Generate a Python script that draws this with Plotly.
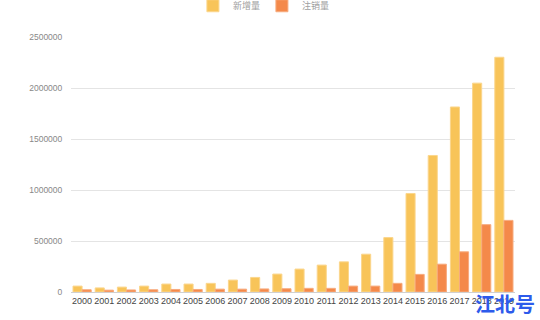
import plotly.graph_objects as go

years = [str(y) for y in range(2000, 2020)]
new_reg = [58000, 40000, 48000, 58000, 78000, 78000, 85000, 117000, 143000, 176000,
           225000, 264000, 296000, 371000, 534000, 967000, 1340000, 1816000, 2050000, 2304000]
cancel = [22000, 18000, 20000, 22000, 25000, 25000, 28000, 28000, 30000, 32000,
          36000, 36000, 58000, 58000, 85000, 173000, 273000, 394000, 661000, 703000]
y_ticks = [0, 500000, 1000000, 1500000, 2000000, 2500000]
series_names = ["新增量", "注销量"]

fig = go.Figure()
fig.add_trace(go.Bar(x=years, y=new_reg, name=series_names[0],
                     marker=dict(color="#F8C459", line=dict(color="#FBD68C", width=1))))
fig.add_trace(go.Bar(x=years, y=cancel, name=series_names[1],
                     marker=dict(color="#F4894A", line=dict(color="#F7AB7E", width=1))))

fig.update_layout(
    width=540, height=320,
    margin=dict(l=71, r=25, t=36, b=28),
    paper_bgcolor="white", plot_bgcolor="white",
    barmode="group", bargap=0.18, bargroupgap=0.0,
    font=dict(family="Noto Sans CJK SC, Noto Sans, sans-serif"),
    legend=dict(orientation="h", x=0.43, xanchor="center", y=0.982, yref="container",
                yanchor="middle", font=dict(size=9, color="#A0A0A0"),
                itemwidth=30, entrywidth=24, entrywidthmode="pixels", traceorder="normal"),
    xaxis=dict(showgrid=False, showline=True, linecolor="#D0D0D0", linewidth=1,
               tickfont=dict(size=9, color="#444444", family="Liberation Sans Narrow, Liberation Sans, sans-serif"),
               ticks="", tickangle=0),
    yaxis=dict(range=[0, 2500000], tickvals=y_ticks, ticktext=[str(v) for v in y_ticks],
               showgrid=True, gridcolor="#E4E4E4", gridwidth=1, zeroline=False,
               tickfont=dict(size=8.5, color="#888888", family="Liberation Sans Narrow, Liberation Sans, sans-serif"),
               ticks="outside", ticklen=6, tickcolor="rgba(0,0,0,0)"),
)
fig.layout.annotations = [dict(text="<b>江北号</b>", x=1.0, y=0.0, xref="paper", yref="paper",
                               xanchor="right", yanchor="top", xshift=22, yshift=5,
                               showarrow=False,
                               font=dict(size=20, color="#2D5BEB", family="Noto Sans CJK SC"))]
fig.write_html("out.html")
